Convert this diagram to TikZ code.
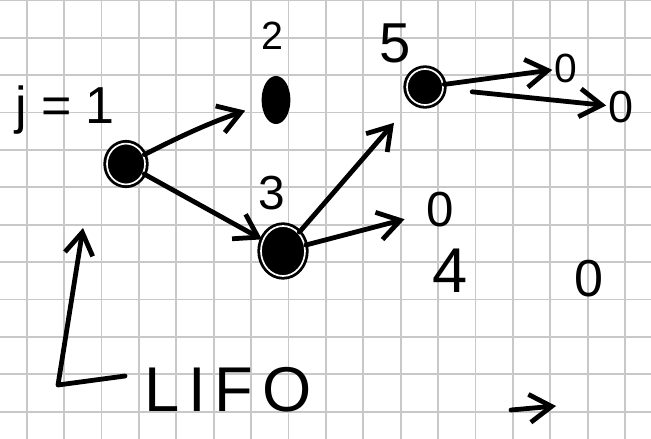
\documentclass[tikz,border=0pt]{standalone}
\usepackage{fontspec}
\setmainfont{Liberation Sans}
\usetikzlibrary{arrows.meta, shapes.geometric}
\definecolor{gridgray}{RGB}{200,200,200}
\newcommand{\pen}[1]{\fontsize{#1}{#1}\selectfont}

\begin{document}
\begin{tikzpicture}[x=.025cm, y=-.025cm, line width=3.4pt, line cap=round, line join=round,
		vertex/.style={ellipse, draw, fill=black, double=white, double distance=1.2pt, line width=2pt, inner sep=0pt},
		leaf/.style={inner sep=0pt},
		go/.style={-{Straight Barb[length=5.5mm, width=7mm]}}]
		\useasboundingbox (0, 0) rectangle (651, 439);
		% squared paper
		\foreach \k in {0,...,16}
			\draw[gridgray, line width=1.2pt] (26.7+37.4*\k, 0) -- (26.7+37.4*\k, 439);
		\foreach \k in {0,...,11}
			\draw[gridgray, line width=1.2pt] (0, 0.3+37.4*\k) -- (651, 0.3+37.4*\k);

		\node[vertex, minimum width=.95cm, minimum height=1.02cm] (n1) at (126, 164) {};
		\node[ellipse, fill=black, inner sep=0pt, minimum width=.72cm, minimum height=1.2cm] (n2) at (276, 100) {};
		\node[vertex, minimum width=1.1cm, minimum height=1.25cm] (n3) at (283, 251) {};
		\node[vertex, minimum width=.9cm, minimum height=.9cm] (n5) at (425, 87) {};

		\node[anchor=base west, font=\pen{37}] (count) at (8, 124) {j = 1};
		\node[font=\pen{28}] (l2) at (272, 36) {2};
		\node[font=\pen{34}] (l3) at (272, 193) {3};
		\node[font=\pen{40}] (l5) at (395, 43) {5};
		\node[font=\pen{45}] (l4) at (450, 271) {4};

		\node[leaf, font=\pen{29}] (z1) at (566, 68) {0};
		\node[leaf, font=\pen{32}] (z2) at (621, 107) {0};
		\node[leaf, font=\pen{35}] (z3) at (440, 210) {0};
		\node[leaf, font=\pen{37}] (z4) at (589, 279) {0};

		\draw[go, shorten >=.38cm] (n1) to[bend left=4] (n2);
		\draw[go] (n1) -- (n3);
		\draw[go, shorten >=.7cm] (n3) -- (n5);
		\draw[go, shorten >=.5cm] (n3) -- (z3);
		\draw[go] (n5) -- (z1);
		\draw[go, shorten <=.7cm] (n5) -- (z2);

		% stack order
		\node[font=\pen{45}\addfontfeatures{LetterSpace=14}] (lifo) at (228, 390) {LIFO};
		\coordinate (tail) at (125, 376);
		\coordinate (corner) at (58, 385);
		\coordinate (top) at (83, 228);
		\draw[go] (tail) -- (corner) -- (top);

		\coordinate (r1) at (511, 410);
		\coordinate (r2) at (556, 406);
		\draw[go] (r1) -- (r2);
	\end{tikzpicture}
\end{document}
